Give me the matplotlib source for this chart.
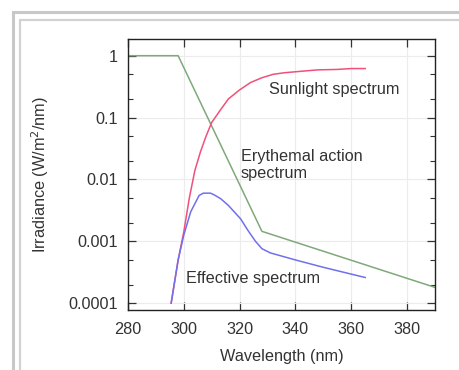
import matplotlib
matplotlib.use("Agg")
import matplotlib.pyplot as plt
from matplotlib.lines import Line2D
from matplotlib.ticker import FixedLocator, FixedFormatter, LogLocator, NullFormatter

plt.rcParams['font.family'] = ['Liberation Sans', 'DejaVu Sans']

# ---- data ----
erythemal_wl = [280, 298, 328, 390]
erythemal_val = [1.0, 1.0, 0.00145, 0.00018]

sun_wl = [295.5, 298, 300, 302, 304, 306, 308, 310, 313, 316, 320, 324, 328,
          332, 336, 342, 348, 355, 360, 365]
sun_val = [0.0001, 0.0005, 0.0014, 0.005, 0.014, 0.028, 0.05, 0.083, 0.13,
           0.2, 0.28, 0.37, 0.44, 0.5, 0.53, 0.56, 0.59, 0.6, 0.62, 0.62]

eff_wl = [295.5, 298, 300, 302.5, 305.5, 307, 309.6, 311, 313.2, 316, 320.4,
          323, 325.7, 328, 331, 340, 350, 365]
eff_val = [0.0001, 0.0005, 0.00125, 0.003, 0.0055, 0.006, 0.006, 0.0056,
           0.0049, 0.0038, 0.0023, 0.0015, 0.001, 0.00076, 0.00065, 0.0005,
           0.00038, 0.00026]

x_ticks = [280, 300, 320, 340, 360, 380]
y_ticks = [1, 0.1, 0.01, 0.001, 0.0001]
y_tick_labels = ["1", "0.1", "0.01", "0.001", "0.0001"]

# ---- figure ----
fig = plt.figure(figsize=(4.6, 3.7), dpi=100)
ax = fig.add_axes([0.278, 0.1622, 0.6677, 0.7324])

ax.plot(erythemal_wl, erythemal_val, color="#7fa97a", lw=1.1)
ax.plot(sun_wl, sun_val, color="#f0507a", lw=1.1)
ax.plot(eff_wl, eff_val, color="#7070ee", lw=1.1)

ax.set_yscale("log")
ax.set_xlim(280, 390)
ax.set_ylim(10 ** -4.11, 10 ** 0.27)

ax.xaxis.set_major_locator(FixedLocator(x_ticks))
ax.yaxis.set_major_locator(FixedLocator(y_ticks))
ax.yaxis.set_major_formatter(FixedFormatter(y_tick_labels))
ax.yaxis.set_minor_locator(LogLocator(base=10, subs=(2.0, 5.0)))
ax.yaxis.set_minor_formatter(NullFormatter())
ax.xaxis.set_minor_locator(FixedLocator([]))

ax.grid(True, which="major", color="#ececec", lw=0.8)
ax.set_axisbelow(True)

ax.tick_params(which="both", direction="in", top=True, right=True,
               colors="#333333", labelcolor="#333333", labelsize=11.7)
ax.tick_params(which="major", length=6, width=0.9)
ax.tick_params(axis="x", which="major", pad=8.5)
ax.tick_params(axis="y", which="major", pad=7)
ax.tick_params(which="minor", length=3.5, width=0.8)
for s in ax.spines.values():
    s.set_color("#222222")
    s.set_linewidth(1.0)

ax.set_xlabel("Wavelength (nm)", fontsize=11.7, color="#333333", labelpad=9)
ax.set_ylabel("Irradiance (W/m$^2$/nm)", fontsize=11.7, color="#333333", labelpad=13)

ax.text(330.4, 0.28, "Sunlight spectrum", fontsize=11.7, color="#333333",
        va="center", ha="left")
ax.text(320.4, 10 ** -1.77, "Erythemal action\nspectrum", fontsize=11.7,
        color="#333333", va="center", ha="left", linespacing=1.15)
ax.text(300.7, 10 ** -3.6, "Effective spectrum", fontsize=11.7,
        color="#333333", va="center", ha="left")

# frame borders (thumbnail style)
W, H = 460.0, 370.0
def fl(xs, ys, **kw):
    fig.add_artist(Line2D([x / W for x in xs], [1 - y / H for y in ys],
                          transform=fig.transFigure, **kw))
fl([13.5, 13.5, 460], [370, 11.5, 11.5], color="#c8c8c8", lw=2.2,
   solid_joinstyle="miter")
fl([20.5, 20.5, 460], [370, 19.8, 19.8], color="#d2d2d2", lw=1.6,
   solid_joinstyle="miter")

fig.savefig("out.png", dpi=100, facecolor="white")
